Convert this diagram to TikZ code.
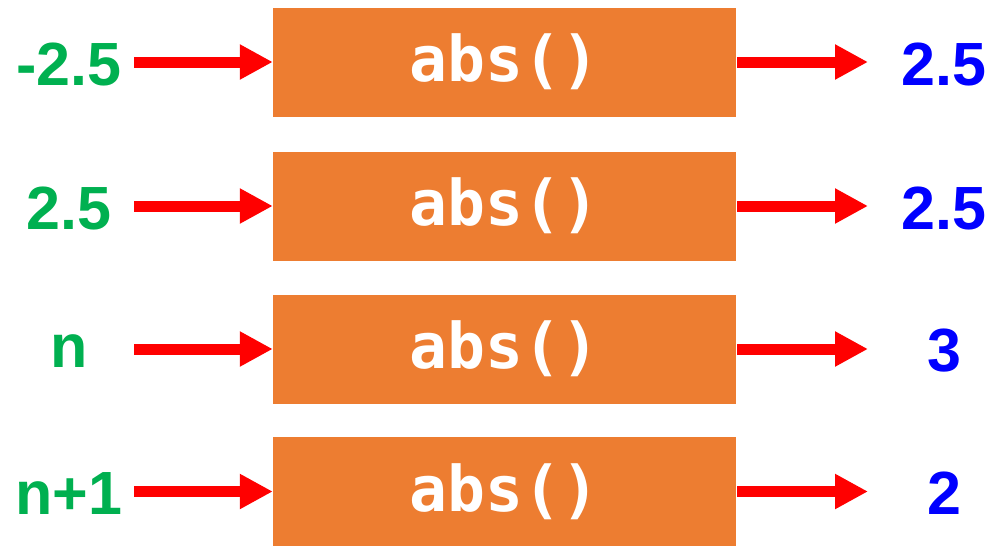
\documentclass[tikz,border=0pt]{standalone}
\usepackage{fontspec}
\setmainfont{Liberation Sans}
\newfontfamily\codefont{DejaVu Sans Mono}
\usetikzlibrary{arrows.meta}
\definecolor{boxorange}{HTML}{ED7D31}
\definecolor{ingreen}{HTML}{00B050}
\definecolor{outblue}{HTML}{0000FF}
\tikzset{
  fnbox/.style={fill=boxorange, draw=none, minimum width=463pt, minimum height=109pt,
    inner sep=0pt, text=white, font=\codefont\bfseries\fontsize{63}{63}\selectfont},
  inlabel/.style={text=ingreen, inner sep=0pt, font=\bfseries\fontsize{61}{61}\selectfont},
  outlabel/.style={text=outblue, inner sep=0pt, font=\bfseries\fontsize{61}{61}\selectfont},
  flow/.style={draw=red, line width=11pt, -{Triangle[length=33pt,width=33pt]}}
}
\begin{document}
\begin{tikzpicture}[x=1pt,y=-1pt]
  \useasboundingbox (0,0) rectangle (1001,547);
  \foreach \i/\y/\inp/\outp in {1/62/-2.5/2.5, 2/206/2.5/2.5, 3/349/n/3, 4/491.5/n+1/2} {
    \node[fnbox] (b\i) at (504.5,\y) {abs()};
    \node[inlabel] (i\i) at (69,\y+2) {\inp};
    \node[outlabel] (o\i) at (944,\y+2) {\outp};
    \coordinate (s\i) at (134,\y);
    \coordinate (t\i) at (868,\y);
    \draw[flow] (s\i) -- (b\i.west);
    \draw[flow] ([xshift=1pt]b\i.east) -- (t\i);
  }
\end{tikzpicture}
\end{document}
